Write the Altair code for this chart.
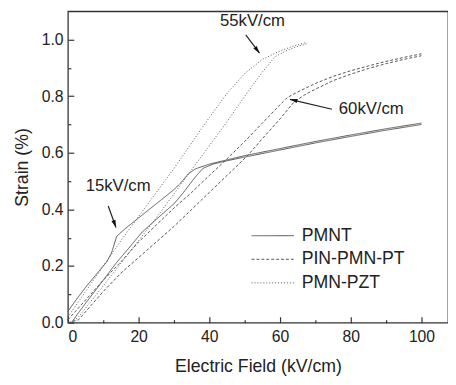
import altair as alt
import pandas as pd
import numpy as np

# ---------------- data ----------------
materials = ["PMNT", "PIN-PMN-PT", "PMN-PZT"]

pmnt_up_E = [0, 2, 5, 8, 11, 12.3, 13.8, 16, 20, 25, 30, 32, 34, 36, 40, 45, 50, 60, 70, 80, 90, 100]
pmnt_up_S = [0.04, 0.075, 0.125, 0.17, 0.215, 0.245, 0.305, 0.33, 0.37, 0.42, 0.47, 0.495, 0.525, 0.543,
             0.56, 0.575, 0.59, 0.615, 0.64, 0.663, 0.685, 0.705]
pmnt_lo_E = [1, 3, 6, 10, 13.6, 17, 21, 25, 30, 32.7, 34.5, 36.4, 38.2, 41, 45, 50, 60, 70, 80, 90, 100]
pmnt_lo_S = [0, 0.035, 0.085, 0.15, 0.21, 0.26, 0.32, 0.365, 0.42, 0.46, 0.49, 0.52, 0.545, 0.56, 0.572,
             0.585, 0.61, 0.635, 0.658, 0.68, 0.70]

pin_up_E = [0, 5, 10, 15, 20, 25, 30, 35, 40, 44.7, 50, 55, 60, 62, 65, 70, 75, 80, 85, 90, 95, 100]
pin_up_S = [0.01, 0.08, 0.15, 0.215, 0.285, 0.345, 0.405, 0.46, 0.52, 0.575, 0.64, 0.705, 0.77, 0.795,
            0.815, 0.845, 0.87, 0.89, 0.907, 0.923, 0.937, 0.95]
pin_lo_E = [0, 3, 10, 15, 20, 25, 30, 35, 40, 45, 50.8, 55, 60, 64, 67, 70, 75, 80, 85, 90, 95, 100]
pin_lo_S = [0, 0.01, 0.11, 0.175, 0.23, 0.285, 0.34, 0.4, 0.46, 0.52, 0.59, 0.65, 0.72, 0.78, 0.805,
            0.825, 0.855, 0.878, 0.898, 0.915, 0.93, 0.943]

pzt_up_E = [0, 5, 10, 15, 20, 25, 30, 35, 40, 45, 50, 55, 60, 64, 67.5]
pzt_up_S = [0.02, 0.11, 0.2, 0.29, 0.375, 0.46, 0.545, 0.635, 0.725, 0.81, 0.88, 0.93, 0.96, 0.978, 0.99]
pzt_lo_E = [1, 3, 10, 15, 20, 25, 30, 35, 40, 45, 50, 55, 58.6, 62, 65, 67.5]
pzt_lo_S = [0, 0.02, 0.13, 0.21, 0.29, 0.37, 0.455, 0.54, 0.625, 0.71, 0.8, 0.885, 0.94, 0.962, 0.976, 0.985]

ann_labels = ["55kV/cm", "60kV/cm", "15kV/cm"]
ann_E = [52.2, 85.8, 14.2]
ann_S = [1.066, 0.754, 0.484]
arrow_E0 = [50.3, 74.7, 11.4]
arrow_S0 = [1.017, 0.754, 0.412]
arrow_E1 = [54.2, 62.8, 13.6]
arrow_S1 = [0.952, 0.789, 0.336]

x_major = [0, 20, 40, 60, 80, 100]
x_minor = [10, 30, 50, 70, 90]
y_major = [0.0, 0.2, 0.4, 0.6, 0.8, 1.0]
y_minor = [0.1, 0.3, 0.5, 0.7, 0.9]

# ---------------- build tables ----------------
rows = []
for mat, branch, E, S in [
    ("PMNT", "up", pmnt_up_E, pmnt_up_S), ("PMNT", "lo", pmnt_lo_E, pmnt_lo_S),
    ("PIN-PMN-PT", "up", pin_up_E, pin_up_S), ("PIN-PMN-PT", "lo", pin_lo_E, pin_lo_S),
    ("PMN-PZT", "up", pzt_up_E, pzt_up_S), ("PMN-PZT", "lo", pzt_lo_E, pzt_lo_S),
]:
    for i, (e, s) in enumerate(zip(E, S)):
        rows.append({"material": mat, "branch": mat + branch, "i": i, "E": e, "S": s})
df = pd.DataFrame(rows)

W, H = 387, 317
XMAX, YMAX = 107.5, 1.1
pxx, pxy = W / XMAX, H / YMAX
dx = (np.array(arrow_E1) - np.array(arrow_E0)) * pxx
dy = -(np.array(arrow_S1) - np.array(arrow_S0)) * pxy
angles = (np.degrees(np.arctan2(dx, -dy)) + 360) % 360
arr = pd.DataFrame({"E0": arrow_E0, "S0": arrow_S0, "E1": arrow_E1, "S1": arrow_S1, "ang": angles})
ann = pd.DataFrame({"label": ann_labels, "E": ann_E, "S": ann_S})

xs = alt.Scale(domain=[0, XMAX], nice=False, zero=False)
ys = alt.Scale(domain=[0, YMAX], nice=False, zero=False)

FONT = "Liberation Sans"

xmaj = alt.Axis(orient="bottom", values=x_major, tickSize=6, offset=-6, domain=False, grid=False,
                labelFontSize=16, labelPadding=6, labelColor="#222", tickColor="#333", tickWidth=1.2,
                titleFontSize=18, titleFontWeight="normal", titleColor="#222", titlePadding=14,
                labelFont=FONT, titleFont=FONT)
ymaj = alt.Axis(orient="left", values=y_major, format=".1f", tickSize=6, offset=-6, domain=False,
                grid=False, labelFontSize=16, labelPadding=5, labelColor="#222", tickColor="#333",
                tickWidth=1.2, titleFontSize=18, titleFontWeight="normal", titleColor="#222",
                titlePadding=10, labelFont=FONT, titleFont=FONT)

lines = alt.Chart(df).mark_line(strokeWidth=1, color="#555").encode(
    x=alt.X("E:Q", scale=xs, axis=xmaj, title="Electric Field (kV/cm)"),
    y=alt.Y("S:Q", scale=ys, axis=ymaj, title="Strain (%)"),
    strokeDash=alt.StrokeDash(
        "material:N",
        scale=alt.Scale(domain=materials, range=[[1, 0], [3, 2], [1, 2]]),
        legend=alt.Legend(title=None, orient="none", legendX=199, legendY=219, padding=0,
                          symbolType="M-2.5,0H2.5", symbolSize=296, symbolStrokeWidth=1,
                          symbolStrokeColor="#555", labelFontSize=18, labelFont=FONT,
                          labelColor="#222", labelOffset=20, rowPadding=5),
    ),
    detail="branch:N",
    order="i:Q",
)

minor_x = alt.Chart(pd.DataFrame({"E": x_minor})).mark_point(opacity=0).encode(
    x=alt.X("E:Q", scale=xs, title=None,
            axis=alt.Axis(orient="bottom", values=x_minor, tickSize=3, offset=-3, domain=False,
                          labels=False, grid=False, tickColor="#333", tickWidth=1.2)),
)
minor_y = alt.Chart(pd.DataFrame({"S": y_minor})).mark_point(opacity=0).encode(
    y=alt.Y("S:Q", scale=ys, title=None,
            axis=alt.Axis(orient="left", values=y_minor, tickSize=3, offset=-3, domain=False,
                          labels=False, grid=False, tickColor="#333", tickWidth=1.2)),
)

texts = alt.Chart(ann).mark_text(fontSize=17, font=FONT, color="#222").encode(
    x=alt.X("E:Q", scale=xs, axis=None), y=alt.Y("S:Q", scale=ys, axis=None), text="label:N"
)
shafts = alt.Chart(arr).mark_rule(strokeWidth=1.2, color="#222").encode(
    x=alt.X("E0:Q", scale=xs, axis=None), y=alt.Y("S0:Q", scale=ys, axis=None), x2="E1:Q", y2="S1:Q"
)
heads = alt.Chart(arr).mark_point(shape="M0,0L-0.45,1.6L0.45,1.6Z", filled=True, size=90,
                                  color="#111", opacity=1).encode(
    x=alt.X("E1:Q", scale=xs, axis=None), y=alt.Y("S1:Q", scale=ys, axis=None),
    angle=alt.Angle("ang:Q", scale=None)
)

chart = alt.layer(lines, minor_x, minor_y, shafts, heads, texts).resolve_axis(
    x="independent", y="independent"
).properties(
    width=W, height=H,
    autosize=alt.AutoSizeParams(type="none"),
    padding={"left": 61, "top": 0, "right": 0, "bottom": 52},
).configure(font=FONT).configure_view(stroke="#333", strokeWidth=1.3)

chart.save("out.html", embed_options={"renderer": "svg", "actions": False})
